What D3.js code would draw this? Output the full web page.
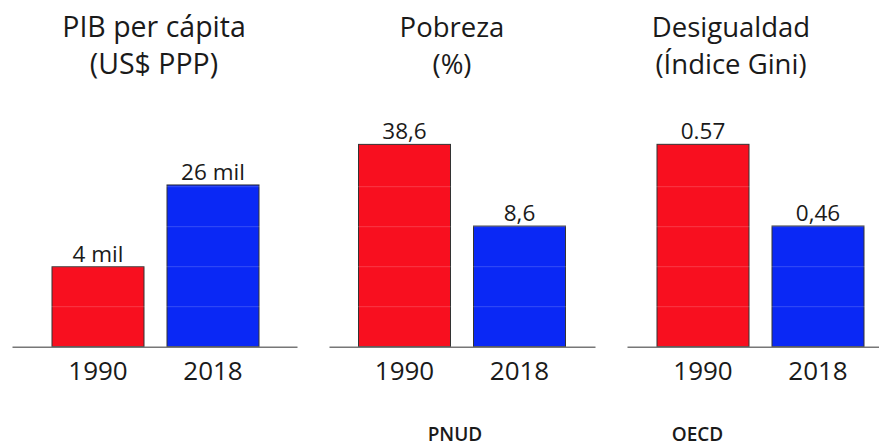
<!DOCTYPE html>
<html>
<head>
<meta charset="utf-8">
<script src="https://cdn.jsdelivr.net/npm/d3@7"></script>
<style>
  body { margin: 0; background: #fff; }
  svg { display: block; font-family: "Open Sans", sans-serif; }
</style>
</head>
<body>
<svg width="879" height="446"></svg>
<script>
// data
var years = ["1990", "2018"];
var titles = [["PIB per cápita", "(US$ PPP)"], ["Pobreza", "(%)"], ["Desigualdad", "(Índice Gini)"]];
var gdpValues = [4, 26];          // miles de US$ PPP
var povertyValues = [38.6, 8.6];  // %
var giniValues = [0.57, 0.46];
var gdpLabels = ["4 mil", "26 mil"];
var povertyLabels = ["38,6", "8,6"];
var giniLabels = ["0.57", "0,46"];
var sources = ["", "PNUD", "OECD"];

var series = [gdpValues, povertyValues, giniValues];
var labels = [gdpLabels, povertyLabels, giniLabels];
// axis floor/ceiling of each panel (the chart does not start at zero)
var yDomains = [[-17.54, 36.3], [-35.7, 37.75], [0.2975, 0.5668]];

var svg = d3.select("svg");
var baseY = 346.7, topY = 146.7;
var axisExtents = [[12, 297], [329, 595], [627, 895]];
var barCenters = [155.5, 462, 760.5];
var titleX = [154, 452, 731];
var titleSize = ["28.5px", "27.5px", "27.5px"];
var sourceX = [0, 455, 697.5];
var colors = ["#f80f1f", "#0a28f5"];

series.forEach(function(vals, i){
    var ext = axisExtents[i];
    var cx = barCenters[i];
    var x = d3.scaleBand()
        .domain(years)
        .range([cx - 103.5, cx + 103.5])
        .paddingInner(0.2)
        .paddingOuter(0);
    var y = d3.scaleLinear()
        .domain(yDomains[i])
        .range([baseY, topY]);

    var g = svg.append("g").attr("class", "panel");

    // title
    g.append("text")
        .attr("x", titleX[i])
        .attr("text-anchor", "middle")
        .attr("fill", "#1a1a1a")
        .style("font-size", titleSize[i])
        .selectAll("tspan")
        .data(titles[i])
        .enter().append("tspan")
        .attr("x", titleX[i])
        .attr("y", (d, k) => 37 + k * 37)
        .text(d => d);

    var data = years.map((yr, k) => ({year: yr, value: vals[k], label: labels[i][k], color: colors[k]}));

    g.selectAll("rect")
        .data(data)
        .enter().append("rect")
        .attr("x", d => x(d.year))
        .attr("y", d => y(d.value))
        .attr("width", x.bandwidth())
        .attr("height", d => baseY - y(d.value))
        .attr("fill", d => d.color)
        .attr("stroke", "#333")
        .attr("stroke-width", 1);

    // faint gridlines over the bars
    g.selectAll("line.grid")
        .data(d3.range(1, 5))
        .enter().append("line")
        .attr("class", "grid")
        .attr("x1", ext[0]).attr("x2", ext[1])
        .attr("y1", k => baseY - k * 40).attr("y2", k => baseY - k * 40)
        .attr("stroke", "rgba(255,255,255,0.18)")
        .attr("stroke-width", 1);

    g.selectAll("text.val")
        .data(data)
        .enter().append("text")
        .attr("class", "val")
        .attr("x", d => x(d.year) + x.bandwidth() / 2)
        .attr("y", d => y(d.value) - 5)
        .attr("text-anchor", "middle")
        .attr("fill", "#1a1a1a")
        .style("font-size", "22.5px")
        .text(d => d.label);

    // axis
    var xa = d3.scaleBand().domain(years)
        .range(ext)
        .paddingInner(0.2)
        .paddingOuter((ext[1] - ext[0] - 207) / 2 / 115);
    var axis = g.append("g")
        .attr("transform", "translate(0," + baseY + ")")
        .call(d3.axisBottom(xa).tickSize(0).tickSizeOuter(0));
    axis.select(".domain").attr("stroke", "#777").attr("stroke-width", 1.5);
    axis.selectAll(".tick").attr("transform", d => "translate(" + (x(d) + x.bandwidth() / 2) + ",0)");
    axis.selectAll(".tick text")
        .attr("y", 33.3).attr("dy", null)
        .attr("fill", "#1a1a1a")
        .style("font-family", "'Open Sans', sans-serif")
        .style("font-size", "26px");

    if (sources[i]) {
        g.append("text")
            .attr("x", sourceX[i])
            .attr("y", 441)
            .attr("text-anchor", "middle")
            .attr("fill", "#1a1a1a")
            .style("font-size", "19px")
            .style("font-weight", "600")
            .text(sources[i]);
    }
});
</script>
</body>
</html>
